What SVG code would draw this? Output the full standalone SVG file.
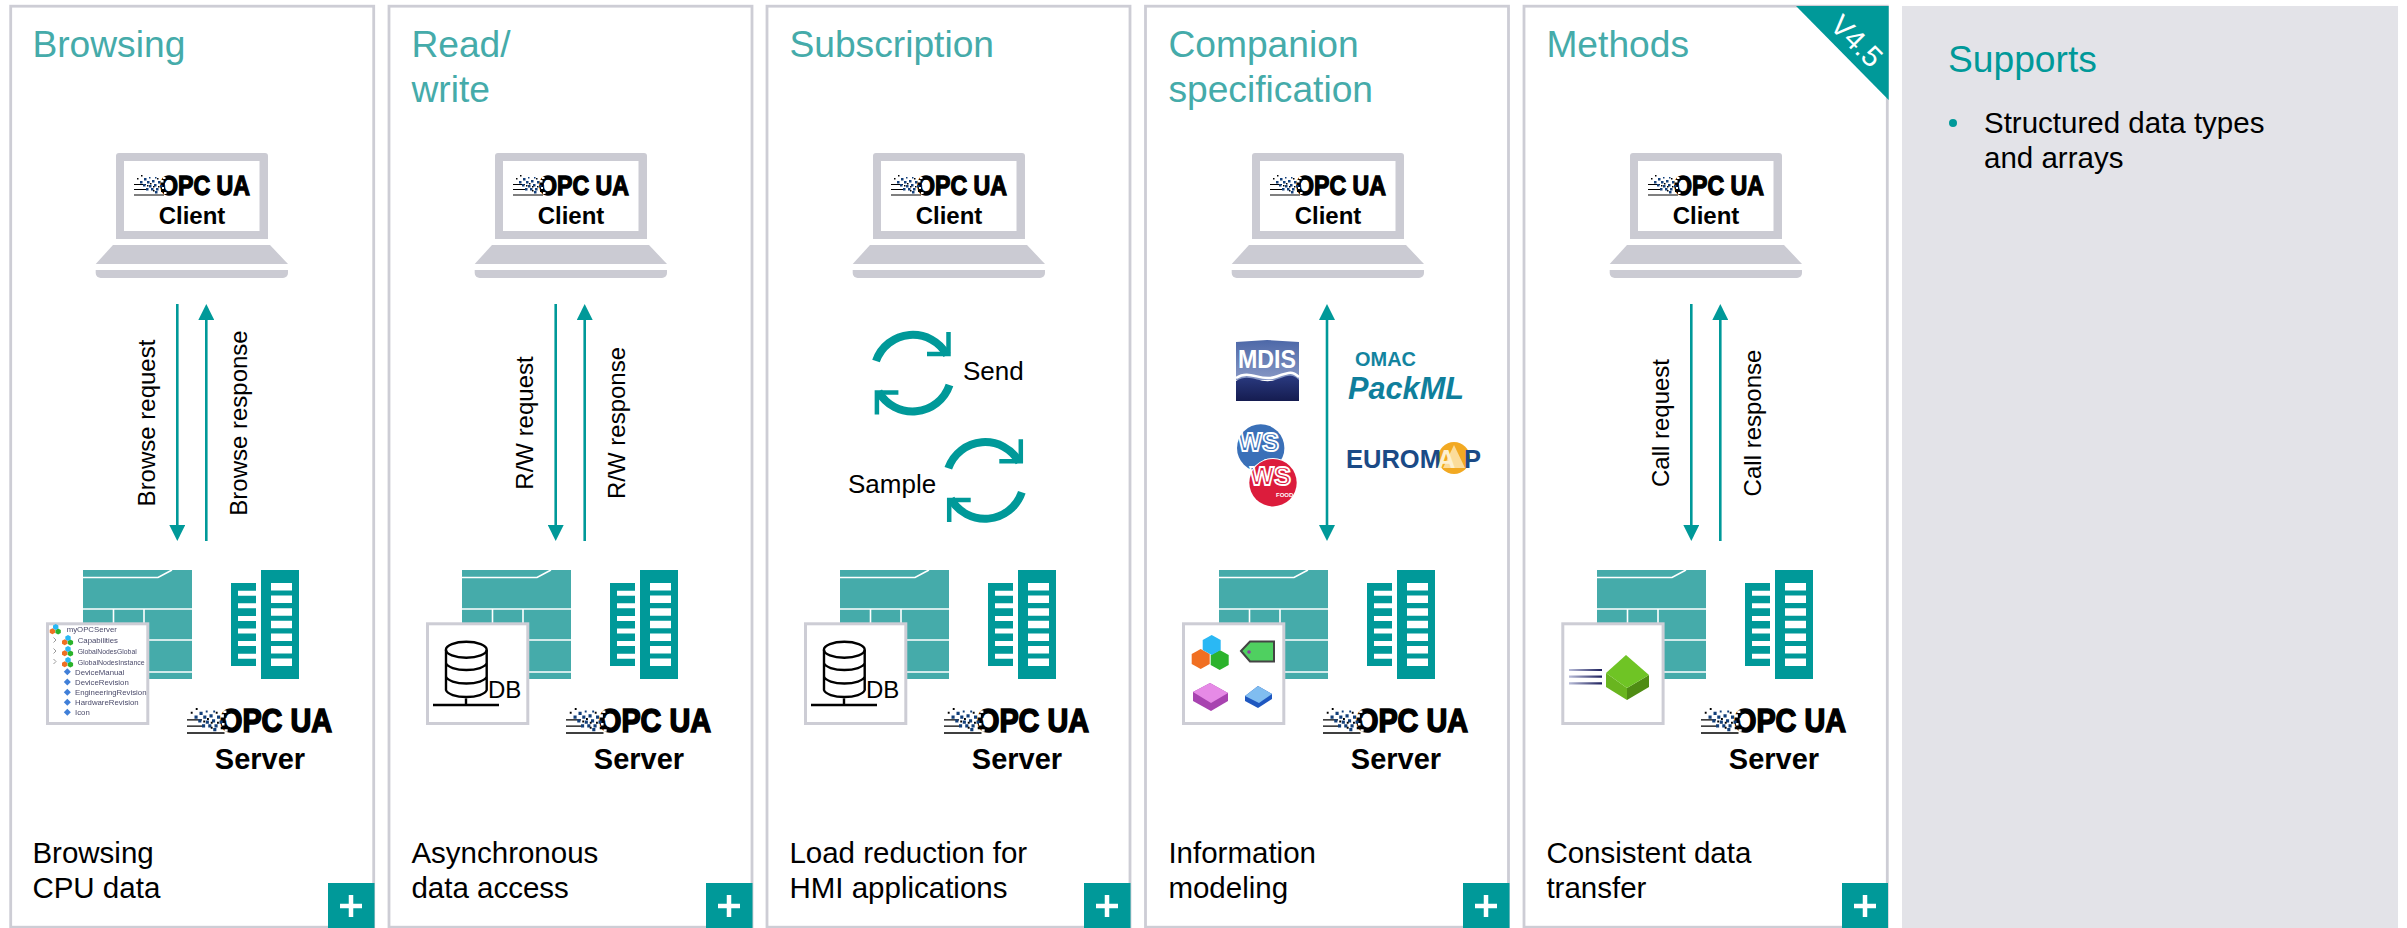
<svg xmlns="http://www.w3.org/2000/svg" width="2407" height="928" viewBox="0 0 2407 928">
<style>
text{font-family:"Liberation Sans",Arial,sans-serif;fill:#000}
.frame{fill:#fff;stroke:#CDCDD5;stroke-width:2.8}
.title{font-size:37.2px;fill:#45ABAA}
.body{font-size:29.500px}
.label{font-size:24px}
.cyc{font-size:26px}
.client{font-size:24px;font-weight:bold;text-anchor:middle}
.server{font-size:29px;font-weight:bold;text-anchor:middle}
.logoC{font-size:27px;font-weight:bold;stroke:#000;stroke-width:1.300}
.logoS{font-size:33px;font-weight:bold;stroke:#000;stroke-width:1.600}
.plus{fill:#009999}
.overlay{fill:#fff;stroke:#CDCDD5;stroke-width:3}
.arrow{stroke:#009999;stroke-width:2.6;fill:none}
.tree{font-size:7.8px;fill:#4a4a6a}
.db{fill:none;stroke:#000;stroke-width:2.4}
</style>
<defs>
<marker id="head" markerUnits="userSpaceOnUse" markerWidth="16" markerHeight="16" refX="1" refY="8" orient="auto-start-reverse"><path d="M0 0L16 8L0 16Z" fill="#009999"/></marker>
<linearGradient id="mdisTop" x1="0" y1="0" x2="0" y2="1"><stop offset="0" stop-color="#4d68a8"/><stop offset="1" stop-color="#8797c4"/></linearGradient>
<linearGradient id="mdisLow" x1="0" y1="0" x2="0" y2="1"><stop offset="0" stop-color="#2a3a80"/><stop offset="1" stop-color="#151c50"/></linearGradient>
<linearGradient id="speed" gradientUnits="userSpaceOnUse" x1="1569" y1="0" x2="1602" y2="0"><stop offset="0" stop-color="#b8bcd8"/><stop offset="1" stop-color="#1c1f5c"/></linearGradient>
<filter id="soft" x="-5%" y="-5%" width="110%" height="110%"><feGaussianBlur stdDeviation="0.5"/></filter>
<g id="laptop" fill="#CBCBD3">
<path fill-rule="evenodd" d="M116 156a3 3 0 0 1 3-3H265a3 3 0 0 1 3 3V239H116ZM124 161V231H259.5V161Z"/>
<path d="M113 245H270L288 264H95.700Z"/>
<path d="M95.700 270H288V273a5 5 0 0 1-5 5H100.700a5 5 0 0 1-5-5Z"/>
</g>
<g id="plant">
<rect x="83" y="570" width="109" height="109" fill="#45ABAA"/>
<path d="M83 577.500H158L172 570M83 609H192M113.500 609V640M144 609V640M83 640H192M83 672H192" fill="none" stroke="#fff" stroke-width="1.600"/>
<path fill="#009999" d="M261 570H299V679H261ZM271 583v7.500h21V583ZM271 595.600v7.500h21v-7.500ZM271 608.200v7.500h21v-7.500ZM271 620.800v7.500h21v-7.500ZM271 633.400v7.500h21v-7.500ZM271 646v7.500h21V646ZM271 658.600v7.500h21v-7.500Z" fill-rule="evenodd"/>
<path fill="#009999" d="M231 583H256V590.700H238V595.700H256V603.300H238V608.300H256V615.900H238V620.900H256V628.500H238V633.500H256V641.100H238V646.100H256V653.700H238V658.700H256V666H231Z"/>
</g>
<g id="spark">
<path d="M0 20H30M0 14.500H14M0 9.500H12" stroke="#000" stroke-width="1.100" fill="none"/>
<path fill="#123f7a" d="M6 6h2.500v2.500H6ZM10 3h2.500v2.500h-2.500ZM13 6h2.500v2.500h-2.500ZM9 9h2.500v2.500H9ZM15 10h2.500v2.500h-2.500ZM18 5h2.500v2.500h-2.500ZM20 9h2.500v2.500h-2.500ZM17 13h2.500v2.500h-2.500ZM12 13h2.500v2.500h-2.500ZM22 13h2.500v2.500h-2.500ZM24 6h2.500v2.500h-2.500ZM21 16h2.500v2.500h-2.500ZM26 10h2.500v2.500h-2.500ZM15 2h1.500v1.500h-1.500ZM21 2h1.500v1.500h-1.500Z"/>
<path fill="#000" d="M7 0h1.500v1.500H7ZM3 3h1.500v1.500H3ZM16 8h1.500v1.500H16ZM23 3h1.500v1.500H23ZM19 11h1.500v1.500H19ZM24 11h1.500v1.500H24ZM27 15h2v2h-2ZM13 10h1.500v1.500H13ZM19 15h1.500v1.500H19Z"/>
<path fill="#fff" d="M27 5h2.500v2.500h-2.500ZM28 12h2v2h-2ZM30 17h2.500v2h-2.500ZM31 8h2v2h-2ZM29 2h2.500v2h-2.500ZM33 13h1.500v1.500H33Z"/>
</g>
<g id="hexes">
<polygon fill="#f06f22" points="-11,4 -2,9 -2,19 -11,24 -20,19 -20,9"/>
<polygon fill="#2cb32c" points="8,5 17,10 17,20 8,25 -1,20 -1,10"/>
<polygon fill="#2ab8f4" points="0,-10 9,-5 9,5 0,10 -9,5 -9,-5"/>
</g>
<path id="bluebit" fill="#3f7fd8" d="M0 -3.500L3.500 0L0 3.500L-3.500 0Z"/>
<g id="cycle" fill="none" stroke="#009999">
<path stroke-width="8" d="M876 361A39 39 0 0 1 947 355M949.500 385A39 39 0 0 1 878.500 391.500"/>
<path stroke-width="4.500" d="M948.500 332V354H927M898.400 392.600H876.900V414.600"/>
</g>
</defs>

<g id="panel-browsing">
<rect class="frame" x="10.700" y="6.200" width="363" height="921"/>
<text class="title" x="32.400" y="57">Browsing</text>
<use href="#laptop"/>
<text class="logoC" x="160" y="195" textLength="90" lengthAdjust="spacingAndGlyphs">OPC UA</text>
<use href="#spark" transform="translate(134 175)"/>
<text class="client" x="192" y="224">Client</text>
<use href="#plant"/>
<rect class="overlay" x="47.500" y="623.800" width="100.300" height="99.700"/>
<g filter="url(#soft)">
<use href="#hexes" transform="translate(55.700 627) scale(.3)"/><use href="#hexes" transform="translate(68 638) scale(.3)"/><use href="#hexes" transform="translate(68 649) scale(.3)"/><use href="#hexes" transform="translate(68 660) scale(.3)"/>
<path d="M53.500 637.500L56 640L53.500 642.500M53.500 648.500L56 651L53.500 653.500M53.500 659L56 661.500L53.500 664" fill="none" stroke="#999" stroke-width="1"/>
<use href="#bluebit" x="67.300" y="671.700"/><use href="#bluebit" x="67.300" y="682"/><use href="#bluebit" x="67.300" y="692.300"/><use href="#bluebit" x="67.300" y="702.300"/><use href="#bluebit" x="67.300" y="712.300"/>
<text class="tree" x="66.700" y="632">myOPCServer</text>
<text class="tree" x="77.700" y="643">Capabilities</text>
<text class="tree" x="77.700" y="653.500" textLength="59" lengthAdjust="spacingAndGlyphs">GlobalNodesGlobal</text>
<text class="tree" x="77.700" y="664.500" textLength="67" lengthAdjust="spacingAndGlyphs">GlobalNodesInstance</text>
<text class="tree" x="75" y="674.500">DeviceManual</text>
<text class="tree" x="75" y="685">DeviceRevision</text>
<text class="tree" x="75" y="695">EngineeringRevision</text>
<text class="tree" x="75" y="705">HardwareRevision</text>
<text class="tree" x="75" y="715">Icon</text>
</g>
<text class="logoS" x="220" y="732" textLength="112" lengthAdjust="spacingAndGlyphs">OPC UA</text>
<use href="#spark" transform="translate(187 708) scale(1.25)"/>
<text class="server" x="260" y="769">Server</text>
<text class="body" x="32.400" y="863">Browsing</text>
<text class="body" x="32.400" y="898">CPU data</text>
<rect class="plus" x="328" y="883" width="46.500" height="45"/>
<path d="M340 906H362M351 895V917" stroke="#fff" stroke-width="4.500"/>
</g>

<g id="panel-readwrite">
<rect class="frame" x="389" y="6.200" width="363" height="921"/>
<text class="title" x="411.400" y="57">Read/</text>
<text class="title" x="411.400" y="101.500">write</text>
<use href="#laptop" x="379"/>
<text class="logoC" x="539" y="195" textLength="90" lengthAdjust="spacingAndGlyphs">OPC UA</text>
<use href="#spark" transform="translate(513 175)"/>
<text class="client" x="571" y="224">Client</text>
<use href="#plant" x="379"/>
<rect class="overlay" x="427.500" y="623.800" width="100.300" height="99.700"/>
<path class="db" d="M446 650V690A20.500 8 0 0 0 486.700 690V650M446 663A20.500 8 0 0 0 486.700 663M446 676.500A20.500 8 0 0 0 486.700 676.500M433 705H499M466 698.500V705"/><ellipse class="db" cx="466.300" cy="649.700" rx="20.400" ry="8"/>
<text class="label" x="488" y="697.700">DB</text>
<text class="logoS" x="599" y="732" textLength="112" lengthAdjust="spacingAndGlyphs">OPC UA</text>
<use href="#spark" transform="translate(566 708) scale(1.25)"/>
<text class="server" x="639" y="769">Server</text>
<text class="body" x="411.400" y="863">Asynchronous</text>
<text class="body" x="411.400" y="898">data access</text>
<rect class="plus" x="706" y="883" width="46.500" height="45"/>
<path d="M718 906H740M729 895V917" stroke="#fff" stroke-width="4.500"/>
</g>

<g id="panel-subscription">
<rect class="frame" x="767" y="6.200" width="363" height="921"/>
<text class="title" x="789.400" y="57">Subscription</text>
<use href="#laptop" x="757"/>
<text class="logoC" x="917" y="195" textLength="90" lengthAdjust="spacingAndGlyphs">OPC UA</text>
<use href="#spark" transform="translate(891 175)"/>
<text class="client" x="949" y="224">Client</text>
<use href="#cycle"/>
<use href="#cycle" x="72.300" y="107.300"/>
<text class="cyc" x="963" y="380.300">Send</text>
<text class="cyc" x="848" y="492.700">Sample</text>
<use href="#plant" x="757"/>
<rect class="overlay" x="805.500" y="623.800" width="100.300" height="99.700"/>
<path class="db" d="M824 650V690A20.500 8 0 0 0 864.700 690V650M824 663A20.500 8 0 0 0 864.700 663M824 676.500A20.500 8 0 0 0 864.700 676.500M811 705H877M844 698.500V705"/><ellipse class="db" cx="844.300" cy="649.700" rx="20.400" ry="8"/>
<text class="label" x="866" y="697.700">DB</text>
<text class="logoS" x="977" y="732" textLength="112" lengthAdjust="spacingAndGlyphs">OPC UA</text>
<use href="#spark" transform="translate(944 708) scale(1.25)"/>
<text class="server" x="1017" y="769">Server</text>
<text class="body" x="789.400" y="863">Load reduction for</text>
<text class="body" x="789.400" y="898">HMI applications</text>
<rect class="plus" x="1084" y="883" width="46.500" height="45"/>
<path d="M1096 906H1118M1107 895V917" stroke="#fff" stroke-width="4.500"/>
</g>

<g id="panel-companion">
<rect class="frame" x="1145.500" y="6.200" width="363" height="921"/>
<text class="title" x="1168.400" y="57">Companion</text>
<text class="title" x="1168.400" y="101.500">specification</text>
<use href="#laptop" x="1136"/>
<text class="logoC" x="1296" y="195" textLength="90" lengthAdjust="spacingAndGlyphs">OPC UA</text>
<use href="#spark" transform="translate(1270 175)"/>
<text class="client" x="1328" y="224">Client</text>
<g id="logo-mdis">
<path d="M1236 342L1267 340L1299 342V380L1236 380Z" fill="url(#mdisTop)"/>
<path d="M1236 381C1250 372 1260 385 1275 380S1292 374 1299 380V401H1236Z" fill="url(#mdisLow)"/>
<path d="M1236 378C1250 369 1260 382 1275 377S1292 371 1299 377" fill="none" stroke="#fff" stroke-width="2.500"/>
<text x="1238" y="368" font-size="26" font-weight="bold" style="fill:#fff" textLength="58" lengthAdjust="spacingAndGlyphs">MDIS</text>
</g>
<g id="logo-packml">
<text x="1355" y="366" font-size="21" font-weight="bold" style="fill:#13849f" textLength="61" lengthAdjust="spacingAndGlyphs">OMAC</text>
<text x="1348" y="399" font-size="32" font-weight="bold" font-style="italic" style="fill:#0f7f9c" textLength="116" lengthAdjust="spacingAndGlyphs">PackML</text>
</g>
<g id="logo-ws">
<circle cx="1260.700" cy="448" r="23.700" fill="#3a70b8"/>
<text x="1238" y="451" font-size="26" font-weight="bold" style="fill:none;stroke:#fff;stroke-width:1.800" textLength="41" lengthAdjust="spacingAndGlyphs">WS</text>
<text x="1264" y="462.500" font-size="6" font-weight="bold" style="fill:#fff">PACK</text>
<circle cx="1273" cy="482.700" r="24.700" fill="#fff"/>
<circle cx="1273" cy="482.700" r="23.700" fill="#dc1c3c"/>
<text x="1250" y="485" font-size="26" font-weight="bold" style="fill:none;stroke:#fff;stroke-width:1.800" textLength="41" lengthAdjust="spacingAndGlyphs">WS</text>
<text x="1276" y="496.500" font-size="6" font-weight="bold" style="fill:#fff">FOOD</text>
</g>
<g id="logo-euromap">
<circle cx="1454" cy="458" r="16" fill="#f2a922"/>
<polygon points="1454,445 1443,468 1465,468" fill="#fbdc9a"/>
<text y="468" font-size="25.500" font-weight="bold" style="fill:#1a4a86"><tspan x="1346">EUROM</tspan><tspan x="1437" style="fill:#fdf0d0">A</tspan><tspan x="1464">P</tspan></text>
</g>
<use href="#plant" x="1136"/>
<rect class="overlay" x="1183.500" y="623.800" width="100.300" height="99.700"/>
<use href="#hexes" transform="translate(1211.700 645)"/>
<polygon points="1241,651 1250,641.500 1274,641.500 1274,661.500 1250,661.500" fill="#4fd060" stroke="#444" stroke-width="2"/>
<circle cx="1249" cy="652" r="1.800" fill="#8a3fa0"/>
<polygon points="1193,692 1210,683 1228,693 1228,701 1211,711 1193,701" fill="#a843b0"/>
<polygon points="1193,692 1210,683 1228,693 1211,703" fill="#e68ae6"/>
<polygon points="1245,696 1258,686 1272,694 1272,699 1258,708 1245,701" fill="#1e57c0"/>
<polygon points="1245,696 1258,686 1272,694 1259,703" fill="#80bdf0"/>
<text class="logoS" x="1356" y="732" textLength="112" lengthAdjust="spacingAndGlyphs">OPC UA</text>
<use href="#spark" transform="translate(1323 708) scale(1.25)"/>
<text class="server" x="1396" y="769">Server</text>
<text class="body" x="1168.400" y="863">Information</text>
<text class="body" x="1168.400" y="898">modeling</text>
<rect class="plus" x="1463" y="883" width="46.500" height="45"/>
<path d="M1475 906H1497M1486 895V917" stroke="#fff" stroke-width="4.500"/>
</g>

<g id="panel-methods">
<rect class="frame" x="1524" y="6.200" width="363.300" height="921"/>
<polygon points="1796,6 1888.700,6 1888.700,100" fill="#009999"/>
<text x="1849.500" y="48" font-size="29" text-anchor="middle" transform="rotate(45 1849.500 48)" style="fill:#fff">V4.5</text>
<text class="title" x="1546.400" y="57">Methods</text>
<use href="#laptop" x="1514"/>
<text class="logoC" x="1674" y="195" textLength="90" lengthAdjust="spacingAndGlyphs">OPC UA</text>
<use href="#spark" transform="translate(1648 175)"/>
<text class="client" x="1706" y="224">Client</text>
<use href="#plant" x="1514"/>
<rect class="overlay" x="1562.800" y="623.800" width="100.300" height="99.700"/>
<path d="M1569 670H1602M1569 676.700H1602M1569 683.300H1602" stroke="url(#speed)" stroke-width="2.200" fill="none"/>
<polygon points="1606,673 1606,687 1627,700 1627,688" fill="#69b51f"/>
<polygon points="1649,675 1649,687 1627,700 1627,688" fill="#4f8c14"/>
<polygon points="1626,655 1606,673 1627,688 1649,675" fill="#6fc425"/>
<text class="logoS" x="1734" y="732" textLength="112" lengthAdjust="spacingAndGlyphs">OPC UA</text>
<use href="#spark" transform="translate(1701 708) scale(1.25)"/>
<text class="server" x="1774" y="769">Server</text>
<text class="body" x="1546.400" y="863">Consistent data</text>
<text class="body" x="1546.400" y="898">transfer</text>
<rect class="plus" x="1842" y="883" width="46" height="45"/>
<path d="M1854 906H1876M1865 895V917" stroke="#fff" stroke-width="4.500"/>
</g>

<g id="panel-supports">
<rect x="1902" y="6" width="496" height="922" fill="#E3E3E8"/>
<text x="1948" y="72" font-size="37.200" style="fill:#009999">Supports</text>
<circle cx="1953" cy="123" r="4" fill="#009999"/>
<text class="body" x="1984" y="133">Structured data types</text>
<text class="body" x="1984" y="168">and arrays</text>
</g>

<g id="connectors">
<line class="arrow" x1="177.300" y1="304" x2="177.300" y2="526" marker-end="url(#head)"/>
<line class="arrow" x1="206.300" y1="541" x2="206.300" y2="319" marker-end="url(#head)"/>
<text class="label" text-anchor="middle" transform="translate(155 423) rotate(-90)">Browse request</text>
<text class="label" text-anchor="middle" transform="translate(246.700 423) rotate(-90)">Browse response</text>
<line class="arrow" x1="555.700" y1="304" x2="555.700" y2="526" marker-end="url(#head)"/>
<line class="arrow" x1="584.700" y1="541" x2="584.700" y2="319" marker-end="url(#head)"/>
<text class="label" text-anchor="middle" transform="translate(533 423) rotate(-90)">R/W request</text>
<text class="label" text-anchor="middle" transform="translate(625 423) rotate(-90)">R/W response</text>
<line class="arrow" x1="1327" y1="319" x2="1327" y2="526" marker-start="url(#head)" marker-end="url(#head)"/>
<line class="arrow" x1="1691.300" y1="304" x2="1691.300" y2="526" marker-end="url(#head)"/>
<line class="arrow" x1="1720.300" y1="541" x2="1720.300" y2="319" marker-end="url(#head)"/>
<text class="label" text-anchor="middle" transform="translate(1669 423) rotate(-90)">Call request</text>
<text class="label" text-anchor="middle" transform="translate(1760.700 423) rotate(-90)">Call response</text>
</g>
</svg>
